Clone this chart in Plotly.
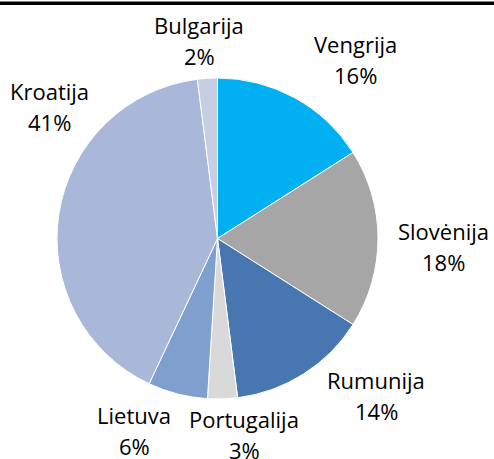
import plotly.graph_objects as go

countries = ["Vengrija", "Slovėnija", "Rumunija", "Portugalija", "Lietuva", "Kroatija", "Bulgarija"]
shares = [16, 18, 14, 3, 6, 41, 2]
slice_colors = ["#00B0F0", "#A6A6A6", "#4876B0", "#D9D9D9", "#7F9FCF", "#A9B8D8", "#C5CEE2"]

# label centres (pixels from top-left) for the name line; the percent sits one line below
label_px = [(355, 44), (443, 231), (376, 380), (244, 419), (134, 415), (49, 91), (199, 25)]
W, H = 494, 459
LINE = 31

fig = go.Figure(go.Pie(
    labels=countries,
    values=shares,
    sort=False,
    direction="clockwise",
    rotation=0,
    marker=dict(colors=slice_colors, line=dict(color="white", width=1)),
    textinfo="none",
    hoverinfo="label+percent",
    domain=dict(x=[57 / W, 378 / W], y=[1 - 399 / H, 1 - 78 / H]),
    showlegend=False,
))

for name, v, (px, py) in zip(countries, shares, label_px):
    for txt, yy in ((name, py), (f"{v}%", py + LINE)):
        fig.add_annotation(
            x=px / W, y=1 - yy / H, xref="paper", yref="paper",
            text=txt, showarrow=False, xanchor="center", yanchor="middle",
            font=dict(family="Open Sans", size=22, color="black"),
        )

# black rule along the top edge
fig.add_shape(type="line", xref="paper", yref="paper", x0=0, x1=1, y0=1 - 3 / H, y1=1 - 3 / H,
              line=dict(color="black", width=3), layer="above")
fig.add_annotation(
    x=0, y=1 - 1.5 / H, xref="paper", yref="paper", xanchor="left", yanchor="top",
    text="", showarrow=False, bgcolor="black", width=W, height=3,
    borderpad=0, borderwidth=0, font=dict(size=1),
)

fig.update_layout(
    width=W, height=H,
    margin=dict(l=0, r=0, t=0, b=0),
    paper_bgcolor="white",
    plot_bgcolor="white",
    font=dict(family="Open Sans", size=22, color="black"),
)

fig.write_html("out.html", config={"displayModeBar": False},
               post_script="document.body.style.margin='0';")
